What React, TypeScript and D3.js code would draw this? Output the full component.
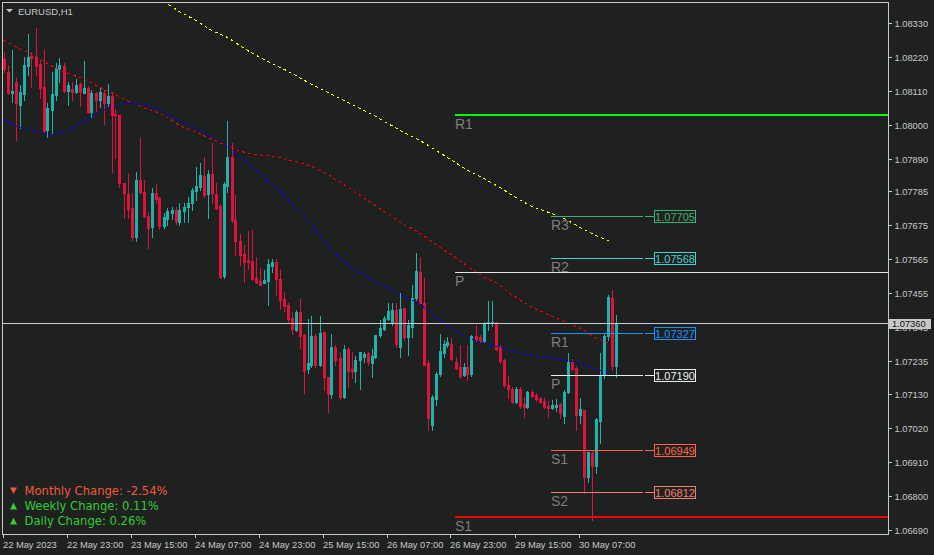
import * as d3 from "d3";

// EURUSD H1 candles, 22 May 07:00 .. 30 May 16:00
const opens = [
  1.08212, 1.08170, 1.08102, 1.08138, 1.08063, 1.08099, 1.08190, 1.08222, 1.08219, 1.08196,
  1.08122, 1.07983, 1.08047, 1.08096, 1.08180, 1.08190, 1.08109, 1.08115, 1.08106, 1.08131,
  1.08102, 1.08119, 1.08041, 1.08102, 1.08080, 1.08102, 1.08070, 1.08093, 1.08034, 1.08031,
  1.07811, 1.07776, 1.07731, 1.07637, 1.07821, 1.07782, 1.07705, 1.07669, 1.07779, 1.07763,
  1.07672, 1.07695, 1.07714, 1.07724, 1.07685, 1.07721, 1.07734, 1.07747, 1.07785, 1.07798,
  1.07834, 1.07776, 1.07840, 1.07776, 1.07737, 1.07511, 1.07802, 1.07895, 1.07692, 1.07624,
  1.07582, 1.07562, 1.07559, 1.07504, 1.07495, 1.07488, 1.07495, 1.07543, 1.07556, 1.07501,
  1.07436, 1.07417, 1.07375, 1.07336, 1.07394, 1.07320, 1.07210, 1.07223, 1.07317, 1.07223,
  1.07330, 1.07184, 1.07129, 1.07281, 1.07246, 1.07119, 1.07275, 1.07210, 1.07204, 1.07239,
  1.07249, 1.07262, 1.07229, 1.07249, 1.07320, 1.07339, 1.07372, 1.07362, 1.07401, 1.07281,
  1.07407, 1.07313, 1.07346, 1.07440, 1.07524, 1.07423, 1.07229, 1.07029, 1.07113, 1.07194,
  1.07262, 1.07288, 1.07291, 1.07233, 1.07217, 1.07191, 1.07217, 1.07194, 1.07317, 1.07313,
  1.07300, 1.07359, 1.07359, 1.07362, 1.07281, 1.07239, 1.07158, 1.07145, 1.07103, 1.07145,
  1.07097, 1.07087, 1.07136, 1.07126, 1.07116, 1.07107, 1.07090, 1.07084, 1.07087, 1.07097,
  1.07058, 1.07136, 1.07233, 1.07213, 1.07061, 1.07077, 1.06861, 1.06939, 1.06896, 1.07042,
  1.07191, 1.07317, 1.07440, 1.07220,
];
const highs = [
  1.08235, 1.08193, 1.08241, 1.08151, 1.08128, 1.08219, 1.08293, 1.08235, 1.08313, 1.08209,
  1.08241, 1.08070, 1.08170, 1.08199, 1.08215, 1.08199, 1.08138, 1.08138, 1.08148, 1.08138,
  1.08206, 1.08125, 1.08112, 1.08106, 1.08119, 1.08112, 1.08131, 1.08106, 1.08051, 1.08031,
  1.07811, 1.07844, 1.07779, 1.07847, 1.07957, 1.07821, 1.07718, 1.07795, 1.07808, 1.07766,
  1.07714, 1.07731, 1.07734, 1.07734, 1.07747, 1.07747, 1.07766, 1.07795, 1.07863, 1.07876,
  1.07895, 1.07853, 1.07941, 1.07811, 1.07743, 1.07815, 1.08012, 1.07941, 1.07773, 1.07646,
  1.07611, 1.07656, 1.07659, 1.07572, 1.07537, 1.07530, 1.07566, 1.07566, 1.07566, 1.07533,
  1.07459, 1.07423, 1.07394, 1.07401, 1.07436, 1.07323, 1.07372, 1.07381, 1.07323, 1.07381,
  1.07330, 1.07184, 1.07323, 1.07288, 1.07265, 1.07288, 1.07281, 1.07265, 1.07252, 1.07265,
  1.07265, 1.07265, 1.07275, 1.07320, 1.07368, 1.07381, 1.07423, 1.07423, 1.07423, 1.07456,
  1.07407, 1.07368, 1.07482, 1.07585, 1.07572, 1.07504, 1.07239, 1.07126, 1.07200, 1.07323,
  1.07304, 1.07313, 1.07310, 1.07249, 1.07288, 1.07229, 1.07288, 1.07320, 1.07352, 1.07320,
  1.07362, 1.07430, 1.07430, 1.07362, 1.07288, 1.07242, 1.07187, 1.07152, 1.07152, 1.07152,
  1.07119, 1.07139, 1.07142, 1.07132, 1.07119, 1.07116, 1.07107, 1.07110, 1.07113, 1.07100,
  1.07142, 1.07262, 1.07242, 1.07217, 1.07116, 1.07077, 1.06942, 1.06948, 1.07052, 1.07262,
  1.07326, 1.07449, 1.07465, 1.07385,
];
const lows = [
  1.08170, 1.08099, 1.08073, 1.07950, 1.07989, 1.08080, 1.08161, 1.08122, 1.08161, 1.08086,
  1.07976, 1.07960, 1.07973, 1.08080, 1.08138, 1.08106, 1.08063, 1.08080, 1.08102, 1.08060,
  1.08102, 1.08038, 1.08025, 1.08044, 1.08057, 1.08002, 1.08057, 1.07847, 1.07892, 1.07798,
  1.07698, 1.07698, 1.07627, 1.07624, 1.07779, 1.07701, 1.07601, 1.07637, 1.07747, 1.07663,
  1.07666, 1.07676, 1.07695, 1.07679, 1.07676, 1.07685, 1.07685, 1.07724, 1.07756, 1.07789,
  1.07766, 1.07698, 1.07747, 1.07727, 1.07504, 1.07504, 1.07782, 1.07685, 1.07579, 1.07546,
  1.07491, 1.07533, 1.07498, 1.07488, 1.07482, 1.07488, 1.07417, 1.07524, 1.07449, 1.07404,
  1.07398, 1.07359, 1.07323, 1.07333, 1.07278, 1.07132, 1.07197, 1.07217, 1.07217, 1.07220,
  1.07142, 1.07071, 1.07116, 1.07223, 1.07113, 1.07116, 1.07152, 1.07181, 1.07168, 1.07145,
  1.07233, 1.07223, 1.07184, 1.07246, 1.07313, 1.07336, 1.07368, 1.07352, 1.07281, 1.07249,
  1.07304, 1.07255, 1.07313, 1.07433, 1.07423, 1.07223, 1.07013, 1.07013, 1.07094, 1.07187,
  1.07249, 1.07281, 1.07239, 1.07210, 1.07181, 1.07187, 1.07175, 1.07187, 1.07300, 1.07297,
  1.07294, 1.07336, 1.07349, 1.07271, 1.07229, 1.07152, 1.07116, 1.07100, 1.07100, 1.07084,
  1.07055, 1.07084, 1.07119, 1.07107, 1.07100, 1.07084, 1.07055, 1.07081, 1.07074, 1.07052,
  1.07035, 1.07132, 1.07207, 1.07013, 1.07035, 1.06809, 1.06845, 1.06722, 1.06874, 1.06971,
  1.07181, 1.07304, 1.07207, 1.07184,
];
const closes = [
  1.08180, 1.08102, 1.08109, 1.08070, 1.08106, 1.08193, 1.08219, 1.08215, 1.08190, 1.08119,
  1.07979, 1.08054, 1.08099, 1.08183, 1.08193, 1.08109, 1.08128, 1.08106, 1.08128, 1.08106,
  1.08119, 1.08041, 1.08102, 1.08080, 1.08106, 1.08070, 1.08093, 1.08031, 1.08031, 1.07811,
  1.07779, 1.07727, 1.07637, 1.07821, 1.07782, 1.07705, 1.07666, 1.07779, 1.07760, 1.07672,
  1.07701, 1.07721, 1.07724, 1.07688, 1.07724, 1.07734, 1.07747, 1.07789, 1.07802, 1.07837,
  1.07773, 1.07840, 1.07779, 1.07731, 1.07507, 1.07808, 1.07895, 1.07692, 1.07624, 1.07579,
  1.07556, 1.07556, 1.07501, 1.07491, 1.07482, 1.07498, 1.07550, 1.07556, 1.07501, 1.07433,
  1.07414, 1.07372, 1.07339, 1.07394, 1.07317, 1.07204, 1.07229, 1.07317, 1.07223, 1.07326,
  1.07184, 1.07129, 1.07281, 1.07239, 1.07119, 1.07275, 1.07204, 1.07204, 1.07239, 1.07265,
  1.07259, 1.07233, 1.07252, 1.07320, 1.07343, 1.07375, 1.07398, 1.07401, 1.07291, 1.07404,
  1.07313, 1.07352, 1.07440, 1.07527, 1.07423, 1.07223, 1.07052, 1.07119, 1.07194, 1.07268,
  1.07291, 1.07297, 1.07242, 1.07213, 1.07187, 1.07217, 1.07194, 1.07317, 1.07307, 1.07300,
  1.07359, 1.07362, 1.07362, 1.07275, 1.07236, 1.07158, 1.07145, 1.07103, 1.07145, 1.07090,
  1.07087, 1.07136, 1.07123, 1.07113, 1.07103, 1.07087, 1.07084, 1.07094, 1.07094, 1.07068,
  1.07136, 1.07233, 1.07210, 1.07061, 1.07081, 1.06861, 1.06942, 1.06896, 1.07048, 1.07191,
  1.07317, 1.07443, 1.07220, 1.07360,
];

// moving averages, read every 4th bar
const maBars = d3.range(0, 153, 4);
const maRed = [
  1.08274, 1.08246, 1.08222, 1.08190, 1.08167, 1.08148, 1.08122, 1.08097, 1.08072, 1.08051,
  1.08031, 1.07999, 1.07976, 1.07954, 1.07931, 1.07912, 1.07903, 1.07897, 1.07884, 1.07870,
  1.07847, 1.07816, 1.07782, 1.07747, 1.07713, 1.07679, 1.07650, 1.07614, 1.07579, 1.07543,
  1.07509, 1.07482, 1.07443, 1.07412, 1.07388, 1.07365, 1.07343, 1.07312, 1.07291,
];
const maBlue = [
  1.08015, 1.07992, 1.07979, 1.07970, 1.07979, 1.08012, 1.08041, 1.08063, 1.08070, 1.08060,
  1.08041, 1.08012, 1.07989, 1.07960, 1.07928, 1.07889, 1.07844, 1.07798, 1.07747, 1.07692,
  1.07630, 1.07569, 1.07533, 1.07501, 1.07472, 1.07446, 1.07420, 1.07378, 1.07343, 1.07313,
  1.07294, 1.07281, 1.07265, 1.07255, 1.07249, 1.07239, 1.07229, 1.07210, 1.07200,
];
const yellowBars = d3.range(40, 153, 4);
const maYellow = [
  1.08400, 1.08366, 1.08338, 1.08306, 1.08282, 1.08248, 1.08219, 1.08193, 1.08167, 1.08138,
  1.08112, 1.08086, 1.08060, 1.08034, 1.08005, 1.07976, 1.07950, 1.07918, 1.07886, 1.07853,
  1.07827, 1.07798, 1.07766, 1.07737, 1.07718, 1.07698, 1.07669, 1.07643, 1.07622,
];

const timeLabels = [
  "22 May 2023", "22 May 23:00", "23 May 15:00", "24 May 07:00", "24 May 23:00",
  "25 May 15:00", "26 May 07:00", "26 May 23:00", "29 May 15:00", "30 May 07:00",
];
const priceTicks = [
  1.0833, 1.0822, 1.0811, 1.08, 1.0789, 1.07785, 1.07675, 1.07565,
  1.07455, 1.07345, 1.07235, 1.0713, 1.0702, 1.0691, 1.068, 1.0669,
];

const weeklyNames = ["R1", "P", "S1"];
const weeklyValues = [1.08032, 1.07524, 1.06732];
const dailyNames = ["R3", "R2", "R1", "P", "S1", "S2"];
const dailyValues = [1.07705, 1.07568, 1.07327, 1.0719, 1.06949, 1.06812];

const changeNames = ["Monthly", "Weekly", "Daily"];
const changeValues = [-2.54, 0.11, 0.26];

const weekStartBar = 113;
const dayStartBar = 137;
const bid = closes[closes.length - 1];

const W = 934;
const H = 555;
const BG = "#1f2020";
const FG = "#c8c8c8";
const UP = "#20b2aa";
const DOWN = "#dc143c";
const weeklyStroke = ["#00ff00", "#e6e6e6", "#ff0000"];
const dailyStroke = ["#3cb371", "#48d1cc", "#1e90ff", "#eeeeee", "#ff6347", "#f08070"];

export default function App() {
  const plotR = 888;
  const plotB = 534;
  const x = d3.scaleLinear().domain([0, 153]).range([3.5, 615.5]);
  const y = d3.scaleLinear().domain([1.0669, 1.0833]).range([530, 22.7]);
  const px = (i: number) => Math.round(x(i));
  const py = (v: number) => Math.round(y(v));

  const maLine = (bars: number[], vals: number[]) =>
    d3.line<number>().x((_, k) => x(bars[k])).y((d) => y(d)).curve(d3.curveMonotoneX)(vals) || "";

  const axisFont = { fontFamily: "Liberation Sans, Arial, sans-serif", fontSize: 9.3, fill: FG };
  const levelFont = { fontFamily: "Liberation Sans, Arial, sans-serif", fontSize: 14 };

  return (
    <svg width={W} height={H} style={{ position: "fixed", left: 0, top: 0, display: "block" }}>
      <defs>
        <clipPath id="plot">
          <rect x={3} y={3} width={plotR - 3} height={plotB - 3} />
        </clipPath>
      </defs>
      <rect width={W} height={H} fill={BG} />

      <g clipPath="url(#plot)">
        {/* candles */}
        {opens.map((o, i) => {
          const c = closes[i];
          const col = c >= o ? UP : DOWN;
          const cx = px(i);
          const top = py(Math.max(o, c));
          const bot = py(Math.min(o, c));
          return (
            <g key={i} shapeRendering="crispEdges">
              <line x1={cx + 0.5} x2={cx + 0.5} y1={py(highs[i])} y2={py(lows[i]) + 1} stroke={col} />
              <rect x={cx - 1} y={top} width={3} height={Math.max(1, bot - top + 1)} fill={col} />
            </g>
          );
        })}

        {/* moving averages */}
        <path d={maLine(yellowBars, maYellow)} fill="none" stroke="#ffff00" strokeDasharray="3 3" shapeRendering="crispEdges" />
        <path d={maLine(maBars, maRed)} fill="none" stroke="#ff0000" strokeDasharray="3 3" shapeRendering="crispEdges" />
        <path d={maLine(maBars, maBlue)} fill="none" stroke="#0000ff" strokeDasharray="3 3" shapeRendering="crispEdges" />

        {/* daily pivots */}
        {dailyValues.map((v, k) => {
          const col = dailyStroke[k];
          const ly = py(v) + 0.5;
          const x0 = px(dayStartBar) - 1;
          const x1 = px(160) - 1;
          return (
            <g key={"d" + k}>
              <line x1={x0} x2={x1} y1={ly} y2={ly} stroke={col} shapeRendering="crispEdges" />
              <line x1={x1 + 2} x2={654} y1={ly} y2={ly} stroke={col} shapeRendering="crispEdges" />
              <rect x={654.5} y={ly - 6} width={41} height={12} fill={BG} stroke={col} shapeRendering="crispEdges" />
              <text x={675} y={ly + 4} textAnchor="middle" fill={col}
                style={{ fontFamily: "Liberation Sans, Arial, sans-serif", fontSize: 11 }}>
                {v.toFixed(5)}
              </text>
              <text x={x0} y={ly + 13} fill="#7d7d7d" style={levelFont}>{dailyNames[k]}</text>
            </g>
          );
        })}

        {/* bid line */}
        <line x1={3} x2={plotR} y1={py(bid) + 0.5} y2={py(bid) + 0.5} stroke={FG} shapeRendering="crispEdges" />
      </g>

      {/* weekly pivots */}
      {weeklyValues.map((v, k) => {
        const ly = py(v);
        const x0 = px(weekStartBar) - 1;
        const thick = k === 1 ? 1 : 2;
        return (
          <g key={"w" + k}>
            <rect x={x0} y={ly + 1 - thick} width={plotR - x0} height={thick} fill={weeklyStroke[k]} />
            <text x={x0} y={ly + 13.5} fill="#7d7d7d" style={levelFont}>{weeklyNames[k]}</text>
          </g>
        );
      })}

      {/* frame */}
      <rect x={2.5} y={2.5} width={plotR - 2} height={plotB - 2} fill="none" stroke={FG} shapeRendering="crispEdges" />

      {/* price axis */}
      {priceTicks.map((v) => (
        <g key={v}>
          <line x1={plotR + 1} x2={plotR + 4} y1={py(v) + 0.5} y2={py(v) + 0.5} stroke={FG} shapeRendering="crispEdges" />
          <text x={894.5} y={py(v) + 3.5} style={axisFont}>{v.toFixed(5)}</text>
        </g>
      ))}
      <rect x={889} y={py(bid) - 4} width={42} height={10} fill={FG} />
      <text x={892} y={py(bid) + 4} style={{ ...axisFont, fill: "#111" }}>{bid.toFixed(5)}</text>

      {/* time axis */}
      {timeLabels.map((t, k) => {
        const tx = px(k * 16) - 1;
        return (
          <g key={t}>
            <line x1={tx + 0.5} x2={tx + 0.5} y1={plotB} y2={plotB + 4} stroke={FG} shapeRendering="crispEdges" />
            <text x={tx} y={547.5} style={axisFont}>{t}</text>
          </g>
        );
      })}

      {/* title */}
      <path d="M6,9 L13,9 L9.5,12.5 Z" fill={FG} />
      <text x={18} y={15} style={{ ...axisFont, fontSize: 9.5 }}>EURUSD,H1</text>

      {/* change summary */}
      {changeNames.map((n, k) => {
        const v = changeValues[k];
        const col = v < 0 ? "#f05a3c" : "#32cd32";
        const base = 494.5 + k * 15;
        const tri = v < 0
          ? `M10,${base - 7} L17,${base - 7} L13.5,${base - 0.5} Z`
          : `M10,${base} L17,${base} L13.5,${base - 7} Z`;
        return (
          <g key={n}>
            <path d={tri} fill={col} />
            <text x={24.5} y={base} fill={col}
              style={{ fontFamily: "DejaVu Sans, Verdana, sans-serif", fontSize: 11.6 }}>
              {`${n} Change: ${v.toFixed(2)}%`}
            </text>
          </g>
        );
      })}
    </svg>
  );
}
